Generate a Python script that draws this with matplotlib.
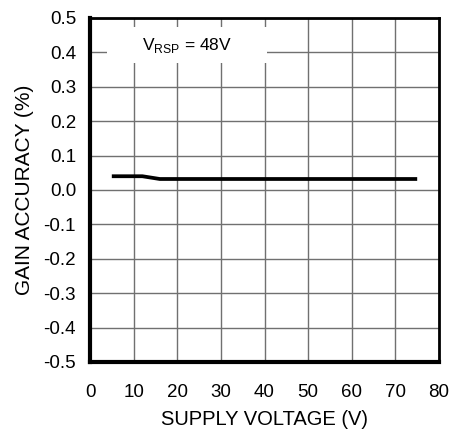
import matplotlib
matplotlib.use("Agg")
import matplotlib.pyplot as plt
from matplotlib.patches import Rectangle

plt.rcParams["font.family"] = ["Liberation Sans", "DejaVu Sans"]

# Gain accuracy vs supply voltage
supply_v = [5, 12, 16, 30, 50, 75]
gain_acc = [0.04, 0.04, 0.032, 0.032, 0.032, 0.032]

x_ticks = list(range(0, 81, 10))
y_ticks = [round(-0.5 + 0.1 * i, 1) for i in range(11)]

fig = plt.figure(figsize=(4.59, 4.36), dpi=100)
ax = fig.add_axes([90 / 459, 74 / 436, 349 / 459, 344 / 436])

ax.plot(supply_v, gain_acc, color="black", linewidth=2.7, solid_capstyle="butt", zorder=3)

ax.set_xlim(0, 80)
ax.set_ylim(-0.5, 0.5)
ax.set_xticks(x_ticks)
ax.set_yticks(y_ticks)
ax.set_yticklabels([f"{v:.1f}" for v in y_ticks])
ax.tick_params(length=0, labelsize=13.5)
ax.tick_params(axis="y", pad=10)
ax.tick_params(axis="x", pad=16)
ax.grid(True, color="#707070", linewidth=1)
ax.spines["left"].set_linewidth(3)
ax.spines["bottom"].set_linewidth(3)
ax.spines["top"].set_linewidth(2)
ax.spines["right"].set_linewidth(2)

ax.set_xlabel("SUPPLY VOLTAGE (V)", fontsize=14.5, labelpad=6)
ax.set_ylabel("GAIN ACCURACY (%)", fontsize=15, labelpad=7)

# white label box interrupting the grid
ax.add_patch(Rectangle((3.9, 0.37), 36.7, 0.105, facecolor="white", edgecolor="none", zorder=2.5))
ax.text(22.3, 0.42, r"V$_{\mathregular{RSP}}$ = 48V", fontsize=12.5, ha="center", va="center", zorder=4)

fig.savefig("out.png", dpi=100)
